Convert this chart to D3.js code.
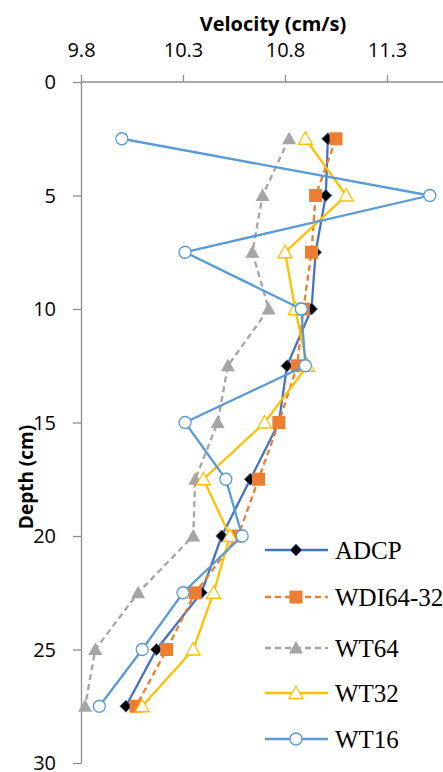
<!DOCTYPE html>
<html>
<head>
<meta charset="utf-8">
<script src="https://cdn.jsdelivr.net/npm/d3@7"></script>
<style>
  body { margin: 0; background: #fff; }
  svg { display: block; }
</style>
</head>
<body>
<div id="ch"></div>
<script>
// velocity profiles, depth on the y axis

const depths = [2.5, 5, 7.5, 10, 12.5, 15, 17.5, 20, 22.5, 25, 27.5];

const adcp   = [11.01, 11.00, 10.95, 10.93, 10.81, 10.77, 10.63, 10.49, 10.39, 10.17, 10.02];
const wdi    = [11.05, 10.95, 10.93, 10.89, 10.86, 10.77, 10.67, 10.57, 10.36, 10.22, 10.07];
const wt64   = [10.82, 10.69, 10.64, 10.72, 10.52, 10.47, 10.36, 10.35, 10.08, 9.87, 9.82];
const wt32   = [10.90, 11.10, 10.80, 10.85, 10.91, 10.70, 10.40, 10.53, 10.45, 10.35, 10.10];
const wt16   = [10.00, 11.51, 10.31, 10.88, 10.90, 10.31, 10.51, 10.59, 10.30, 10.10, 9.89];

const xTicks = [9.8, 10.3, 10.8, 11.3];
const yTicks = [0, 5, 10, 15, 20, 25, 30];

const series = [
  { name: "ADCP", values: adcp, color: "#4472C4", dash: null, marker: "diamond" },
  { name: "WDI64-32", values: wdi, color: "#ED7D31", dash: "6,4", marker: "square" },
  { name: "WT64", values: wt64, color: "#A5A5A5", dash: "6,4", marker: "triangle" },
  { name: "WT32", values: wt32, color: "#FFC000", dash: null, marker: "triangleOpen" },
  { name: "WT16", values: wt16, color: "#5B9BD5", dash: null, marker: "circleOpen" }
];

const width = 443, height = 772;
const axisCol = "#8c8c8c";
const font = "'Open Sans', Lato, sans-serif";

const svg = d3.select("#ch").append("svg")
  .attr("width", width)
  .attr("height", height);

const x = d3.scaleLinear().domain([9.8, 11.8]).range([81, 489]);
const y = d3.scaleLinear().domain([0, 30]).range([82, 763]);

/* axes */
const gx = svg.append("g").attr("transform", "translate(0," + y(0) + ")")
  .call(d3.axisTop(x).tickValues(xTicks).tickSize(7).tickSizeOuter(0).tickFormat(d3.format(".1f")));
gx.select(".domain").attr("d", "M" + x(9.8) + ",0H" + width);
const gy = svg.append("g").attr("transform", "translate(" + x(9.8) + ",0)")
  .call(d3.axisLeft(y).tickValues(yTicks).tickSize(8).tickSizeOuter(0));

[gx, gy].forEach(g => {
  g.select(".domain").attr("stroke", axisCol).attr("stroke-width", 1.3);
  g.selectAll(".tick line").attr("stroke", axisCol).attr("stroke-width", 1.3);
  g.selectAll(".tick text")
    .attr("fill", "#000")
    .style("font-family", font)
    .style("font-size", "20px");
});
gx.selectAll(".tick text").attr("y", -25).attr("dy", "0");
gy.selectAll(".tick text").attr("x", -25).attr("dy", "0.33em");

svg.append("text")
  .attr("x", 273).attr("y", 31)
  .attr("text-anchor", "middle")
  .style("font-family", font).style("font-size", "20px").style("font-weight", "bold")
  .text("Velocity (cm/s)");

svg.append("text")
  .attr("transform", "translate(33,477) rotate(-90)")
  .attr("text-anchor", "middle")
  .style("font-family", font).style("font-size", "19px").style("font-weight", "bold")
  .text("Depth (cm)");

/* markers */
function drawMarker(g, type, color, cx, cy) {
  if (type == "diamond") {
    g.append("path")
      .attr("d", "M" + cx + "," + (cy - 6) + "L" + (cx + 6) + "," + cy + "L" + cx + "," + (cy + 6) + "L" + (cx - 6) + "," + cy + "Z")
      .attr("fill", "#000").attr("stroke", color).attr("stroke-width", 0.8);
  } else if (type == "square") {
    g.append("rect")
      .attr("x", cx - 6.5).attr("y", cy - 6.5).attr("width", 13).attr("height", 13)
      .attr("fill", color);
  } else if (type == "triangle" || type == "triangleOpen") {
    g.append("path")
      .attr("d", "M" + cx + "," + (cy - 7) + "L" + (cx + 7) + "," + (cy + 5.5) + "L" + (cx - 7) + "," + (cy + 5.5) + "Z")
      .attr("fill", type == "triangle" ? color : "#fff")
      .attr("stroke", color).attr("stroke-width", type == "triangle" ? 0 : 1.3);
  } else if (type == "circleOpen") {
    g.append("circle")
      .attr("cx", cx).attr("cy", cy).attr("r", 6)
      .attr("fill", "#fff").attr("stroke", color).attr("stroke-width", 1.3);
  }
}

const line = d3.line()
  .x(d => x(d[0]))
  .y(d => y(d[1]));

series.forEach(s => {
  const pts = s.values.map((v, i) => [v, depths[i]]);
  const g = svg.append("g");
  g.append("path")
    .datum(pts)
    .attr("d", line)
    .attr("fill", "none")
    .attr("stroke", s.color)
    .attr("stroke-width", 2.3)
    .attr("stroke-dasharray", s.dash);
  pts.forEach(p => drawMarker(g, s.marker, s.color, x(p[0]), y(p[1])));
});

/* legend */
const legY = [550, 597, 648, 693, 739];
series.forEach((s, i) => {
  const g = svg.append("g");
  g.append("line")
    .attr("x1", 265).attr("x2", 328)
    .attr("y1", legY[i]).attr("y2", legY[i])
    .attr("stroke", s.color).attr("stroke-width", 2.3)
    .attr("stroke-dasharray", s.dash);
  drawMarker(g, s.marker, s.color, 296, legY[i]);
  g.append("text")
    .attr("x", 335).attr("y", legY[i] + 8.5)
    .style("font-family", "'Liberation Serif', 'Times New Roman', serif")
    .style("font-size", "25px")
    .text(s.name);
});
</script>
</body>
</html>
